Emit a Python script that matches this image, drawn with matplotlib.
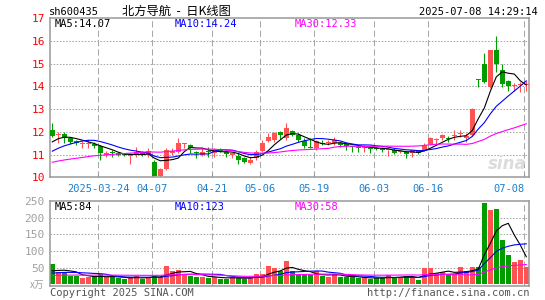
import numpy as np
import pandas as pd
import matplotlib
matplotlib.use('Agg')
import matplotlib.pyplot as plt

# header texts
code = 'sh600435'
title = '北方导航  -  日K线图'
stamp = '2025-07-08 14:29:14'
ma_text = ['MA5:14.07', 'MA10:14.24', 'MA30:12.33']
vol_ma_text = ['MA5:84', 'MA10:123', 'MA30:58']

# trading days shown (80 sessions)
holidays = ['2025-04-04', '2025-05-01', '2025-05-02', '2025-05-05', '2025-06-02']
days = pd.bdate_range('2025-03-12', '2025-07-08')
days = days[~days.isin(pd.to_datetime(holidays))]

tick_dates = ['2025-03-24', '2025-04-07', '2025-04-21', '2025-05-06',
              '2025-05-19', '2025-06-03', '2025-06-16', '2025-07-08']
tick_labels = ['2025-03-24', '04-07', '04-21', '05-06', '05-19', '06-03', '06-16', '07-08']

opens = [12.08, 11.87, 11.89, 11.72, 11.58, 11.46, 11.46, 11.45, 11.37, 10.98,
         11.12, 11.06, 11.03, 10.93, 10.97, 11.08, 10.97, 10.68, 10.05, 10.38,
         11.06, 11.12, 11.45, 11.41, 11.12, 11.0, 11.14, 11.05, 11.22, 11.12,
         11.0, 10.93, 10.83, 10.64, 10.83, 11.16, 11.6, 11.63, 12.0, 11.71,
         12.03, 11.85, 11.6, 11.34, 11.27, 11.52, 11.49, 11.49, 11.49, 11.46,
         11.36, 11.32, 11.27, 11.28, 11.28, 11.24, 11.18, 11.21, 11.12, 11.12,
         11.05, 11.17, 11.19, 11.46, 11.65, 11.71, 11.73, 11.83, 11.9, 11.75,
         11.85, 14.31, 15.01, 13.98, 15.6, 14.72, 14.23, 14.0, 14.05, 14.08]
highs = [12.40, 12.0, 11.98, 11.78, 11.63, 11.6, 11.63, 11.56, 11.41, 11.15,
         11.2, 11.12, 11.08, 11.08, 11.34, 11.15, 11.3, 10.75, 10.4, 11.27,
         11.3, 11.71, 11.52, 11.47, 11.15, 11.27, 11.34, 11.3, 11.3, 11.2,
         11.08, 11.05, 10.9, 10.9, 11.2, 11.63, 11.96, 12.0, 12.03, 12.37,
         12.1, 11.93, 11.71, 11.71, 11.63, 11.66, 11.63, 11.79, 11.52, 11.49,
         11.4, 11.4, 11.41, 11.36, 11.34, 11.32, 11.22, 11.3, 11.2, 11.15,
         11.22, 11.2, 11.52, 11.78, 11.71, 11.9, 11.81, 12.07, 12.07, 11.93,
         13.03, 14.31, 15.49, 15.62, 16.23, 15.01, 14.28, 14.13, 14.2, 14.26]
lows = [11.76, 11.52, 11.49, 11.45, 11.41, 11.27, 11.3, 11.3, 10.75, 10.9,
        10.9, 10.93, 10.95, 10.6, 10.9, 10.93, 10.88, 10.03, 10.02, 10.33,
        11.0, 11.05, 11.3, 11.05, 10.85, 10.93, 10.9, 10.9, 11.1, 10.9,
        10.83, 10.6, 10.63, 10.6, 10.78, 11.1, 11.55, 11.56, 11.7, 11.66,
        11.8, 11.56, 11.27, 11.27, 11.22, 11.41, 11.41, 11.44, 11.34, 11.19,
        11.1, 11.1, 11.12, 11.05, 11.2, 11.1, 10.95, 11.02, 11.05, 10.85,
        10.88, 11.02, 11.17, 11.41, 11.41, 11.66, 11.56, 11.66, 11.78, 11.56,
        11.8, 13.98, 14.13, 13.93, 14.64, 13.98, 13.8, 13.8, 13.75, 13.78]
closes = [11.83, 11.90, 11.74, 11.56, 11.49, 11.49, 11.52, 11.38, 11.05, 11.06,
          11.05, 10.99, 10.97, 10.95, 11.1, 10.98, 11.15, 10.05, 10.36, 11.19,
          11.14, 11.49, 11.47, 11.3, 11.05, 11.12, 11.1, 11.22, 11.15, 11.03,
          11.05, 10.78, 10.68, 10.78, 11.12, 11.52, 11.78, 11.96, 11.85, 12.19,
          11.85, 11.66, 11.37, 11.31, 11.6, 11.46, 11.52, 11.63, 11.41, 11.37,
          11.32, 11.28, 11.36, 11.26, 11.26, 11.2, 11.2, 11.05, 11.14, 11.03,
          11.19, 11.05, 11.41, 11.71, 11.68, 11.85, 11.7, 11.86, 11.93, 11.82,
          13.0, 14.3, 14.2, 15.6, 15.01, 14.1, 14.0, 14.02, 14.12, 14.1]
# volume, 10k shares
volume = [62, 36, 36, 25, 25, 18, 22, 22, 29, 20,
          20, 18, 15, 20, 25, 15, 22, 25, 20, 54,
          40, 43, 29, 25, 22, 22, 18, 22, 16, 16,
          22, 18, 16, 20, 29, 29, 54, 47, 40, 70,
          40, 26, 26, 26, 38, 25, 22, 30, 22, 20,
          20, 18, 20, 16, 18, 18, 26, 20, 22, 25,
          20, 13, 47, 49, 34, 36, 29, 29, 52, 40,
          52, 52, 245, 225, 228, 132, 88, 68, 73, 52]

# earlier sessions (off chart), estimated from where the MA lines start
pre_close = [10.3, 10.35, 10.4, 10.45, 10.38, 10.32, 10.36, 10.42, 10.5, 10.45,
             10.4, 10.38, 10.44, 10.5, 10.48, 10.42, 10.46, 10.5, 10.45, 10.44,
             10.6, 10.7, 10.75, 10.8, 10.85, 11.2, 11.4, 11.6, 11.77]
pre_volume = [20, 22, 25, 21, 24, 23, 20, 22, 24, 23, 21, 22, 25, 23, 22, 21, 24, 22, 23, 23,
              24, 26, 25, 28, 27, 30, 33, 36, 39]

W, H = 545, 300
RED, GREEN = '#ff5252', '#009c00'
GRID = '#a8a8a8'
MONO = 'DejaVu Sans Mono'


def fx(x):
    return x / W


def fy(y):
    return 1 - y / H


fig = plt.figure(figsize=(W / 100, H / 100), dpi=100)
ax = fig.add_axes([fx(50.3), fy(177.3), (529.3 - 50.3) / W, (177.3 - 18.3) / H])
axv = fig.add_axes([fx(50.3), fy(285.7), (529.3 - 50.3) / W, (285.7 - 201) / H])

n = len(closes)
x = np.arange(n)
o = np.array(opens)
c = np.array(closes)
up = c >= o
cols = np.where(up, RED, GREEN)

close_all = pd.Series(pre_close + closes)
vol_all = pd.Series(pre_volume + volume)
k = len(pre_close)
ma_cols = ['black', '#0000ff', '#ff00ff']
ma_win = [5, 10, 30]

tick_idx = np.array([days.get_loc(pd.Timestamp(d)) for d in tick_dates]) - 0.33

for a in (ax, axv):
    a.set_xlim(-0.33, n - 0.5)
    for t in tick_idx:
        a.axvline(t, color=GRID, lw=0.75, ls=(0, (6, 3)), zorder=0)
    for s in a.spines.values():
        s.set_color('#999999')
        s.set_linewidth(1.1)

# sina watermark behind the candles
ax.text(0.995, 0.085, 'sina', transform=ax.transAxes, family='DejaVu Sans', fontsize=12,
        fontweight='bold', style='italic', ha='right', va='center', color='#dcdcdc', zorder=1)

# price panel
ax.set_ylim(10, 17)
for v in range(11, 17):
    ax.axhline(v, color=GRID, lw=0.75, ls=(0, (1.5, 1.5)), zorder=0)
ax.vlines(x, lows, highs, color=cols, lw=0.8, zorder=2)
body = np.maximum(np.abs(c - o), 0.045)
ax.bar(x, body, bottom=np.minimum(o, c), width=0.8, color=cols, zorder=3, linewidth=0)
for w, col in zip(ma_win, ma_cols):
    ax.plot(x, close_all.rolling(w).mean().values[k:], color=col, lw=0.8, zorder=4)

ax.set_yticks(range(10, 18))
ax.set_yticklabels([str(v) for v in range(10, 18)], family=MONO)
ax.tick_params(axis='y', length=0, pad=4, labelcolor='red', labelsize=8)
ax.set_xticks(tick_idx)
ax.set_xticklabels(tick_labels, family=MONO)
ax.tick_params(axis='x', direction='in', length=3, color='#999999', pad=5,
               labelcolor='#1a80d0', labelsize=7.5)
ax.get_xticklabels()[-1].set_ha('right')

# volume panel
axv.set_ylim(-5, 251)
for v in range(50, 250, 50):
    axv.axhline(v, color=GRID, lw=0.75, ls=(0, (1.5, 1.5)), zorder=0)
axv.bar(x, volume, width=0.8, color=cols, zorder=2, linewidth=0)
for w, col in zip(ma_win, ma_cols):
    axv.plot(x, vol_all.rolling(w).mean().values[k:], color=col, lw=0.8, zorder=3)
axv.set_yticks(range(50, 300, 50))
axv.set_yticklabels([str(v) for v in range(50, 300, 50)], family=MONO)
axv.tick_params(axis='y', length=0, pad=4, labelcolor='#a0a0a0', labelsize=8)
axv.set_xticks([])

# texts
fig.text(fx(49), fy(15), code, family=MONO, fontsize=7.5, va='baseline')
fig.text(fx(122), fy(15), title, family=['Noto Sans CJK SC', 'DejaVu Sans'], fontsize=8.8,
         va='baseline')
fig.text(fx(537.5), fy(15), stamp, family=MONO, fontsize=7.5, va='baseline', ha='right')
for xp, t, col in zip([55, 175, 295], ma_text, ma_cols):
    fig.text(fx(xp), fy(24), t, family=MONO, fontsize=7.5, va='center', color=col)
for xp, t, col in zip([55, 175, 295], vol_ma_text, ma_cols):
    fig.text(fx(xp), fy(207), t, family=MONO, fontsize=7.5, va='center', color=col)
fig.text(fx(44), fy(285), 'x万', family=['Noto Sans CJK SC', 'DejaVu Sans'], fontsize=7,
         va='center', ha='right', color='#a0a0a0', style='italic')
fig.text(fx(50), fy(292.5), 'Copyright 2025 SINA.COM', family=MONO, fontsize=7.5,
         va='center', color='#555555')
fig.text(fx(529.5), fy(292.5), 'http://finance.sina.com.cn', family=MONO, fontsize=7.5,
         va='center', ha='right', color='#555555')

fig.savefig('out.png', dpi=100)
